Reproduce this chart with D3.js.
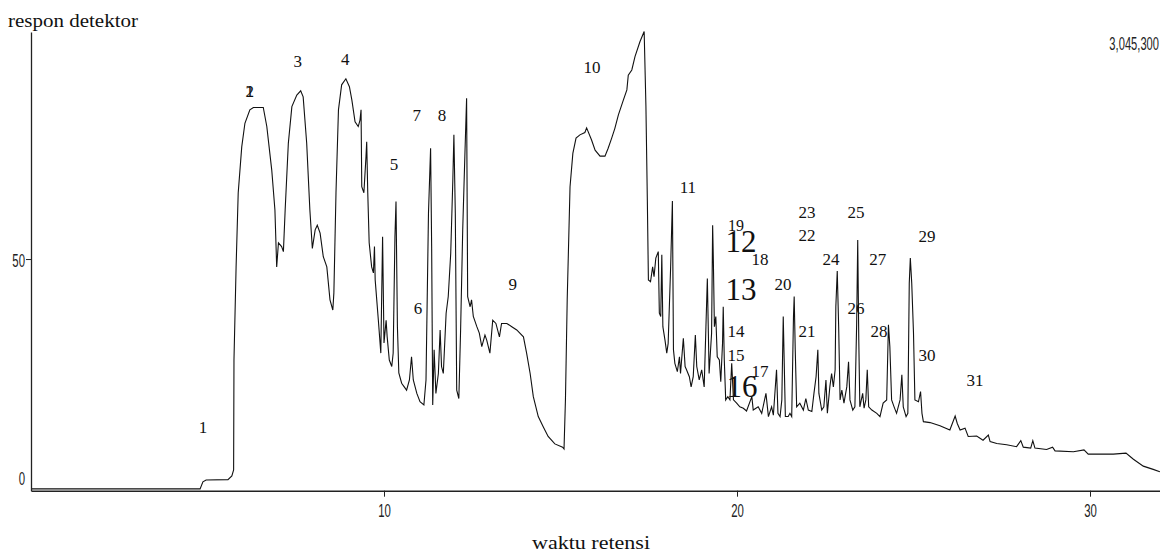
<!DOCTYPE html>
<html>
<head>
<meta charset="utf-8">
<script src="https://cdn.jsdelivr.net/npm/d3@7"></script>
<style>
  body { margin: 0; background: #fff; }
  svg { display: block; }
</style>
</head>
<body>
<svg></svg>
<script>
// retention time (min) and detector response (% of full scale)
const retentionTime = [
  0, 4.79, 4.87, 4.96, 5.58, 5.69, 5.74, 5.75, 5.81, 5.87, 5.97, 6.06, 6.20, 6.30, 6.58, 6.68, 6.82, 6.91, 6.96, 7.01,
  7.10, 7.15, 7.20, 7.29, 7.39, 7.53, 7.64, 7.71, 7.81, 7.90, 7.97, 8.05, 8.11, 8.19, 8.28, 8.38, 8.47, 8.55, 8.58, 8.64,
  8.71, 8.80, 8.92, 9.02, 9.09, 9.18, 9.27, 9.32, 9.35, 9.37, 9.43, 9.49, 9.51, 9.54, 9.58, 9.65, 9.70, 9.73, 9.75, 9.84,
  9.91, 9.96, 10.00, 10.06, 10.09, 10.15, 10.22, 10.26, 10.31, 10.34, 10.38, 10.42, 10.50, 10.64, 10.72, 10.78, 10.83, 10.93, 11.02, 11.13,
  11.19, 11.26, 11.32, 11.35, 11.38, 11.42, 11.47, 11.54, 11.59, 11.63, 11.68, 11.76, 11.82, 11.89, 11.95, 11.98, 12.02, 12.06, 12.12, 12.17,
  12.23, 12.29, 12.34, 12.37, 12.44, 12.48, 12.53, 12.63, 12.70, 12.77, 12.86, 12.91, 13.00, 13.08, 13.17, 13.27, 13.33, 13.48, 13.62, 13.76,
  13.95, 14.04, 14.14, 14.23, 14.37, 14.51, 14.65, 14.84, 15.06, 15.10, 15.14, 15.19, 15.27, 15.35, 15.44, 15.55, 15.69, 15.74, 15.88, 15.98,
  16.12, 16.26, 16.35, 16.45, 16.54, 16.64, 16.78, 16.88, 16.92, 17.02, 17.11, 17.25, 17.37, 17.42, 17.46, 17.49, 17.55, 17.61, 17.65, 17.70,
  17.77, 17.80, 17.84, 17.87, 17.90, 17.96, 18.01, 18.05, 18.12, 18.17, 18.20, 18.24, 18.31, 18.37, 18.40, 18.48, 18.53, 18.57, 18.65, 18.70,
  18.76, 18.82, 18.86, 18.93, 19.00, 19.07, 19.12, 19.16, 19.21, 19.28, 19.31, 19.33, 19.36, 19.40, 19.44, 19.50, 19.54, 19.59, 19.61, 19.64,
  19.68, 19.74, 19.80, 19.85, 19.90, 19.99, 20.08, 20.18, 20.27, 20.42, 20.46, 20.60, 20.70, 20.82, 20.89, 20.98, 21.03, 21.12, 21.16, 21.22,
  21.27, 21.31, 21.34, 21.37, 21.45, 21.50, 21.55, 21.60, 21.62, 21.65, 21.69, 21.78, 21.88, 21.95, 22.02, 22.12, 22.18, 22.24, 22.29, 22.32,
  22.40, 22.46, 22.52, 22.56, 22.63, 22.68, 22.73, 22.78, 22.80, 22.84, 22.88, 22.92, 22.97, 23.03, 23.11, 23.16, 23.20, 23.28, 23.34, 23.39,
  23.42, 23.45, 23.48, 23.56, 23.60, 23.65, 23.69, 23.73, 23.82, 23.96, 24.05, 24.14, 24.24, 24.29, 24.33, 24.38, 24.45, 24.52, 24.62, 24.67,
  24.71, 24.79, 24.84, 24.88, 24.91, 24.95, 25.00, 25.04, 25.14, 25.20, 25.24, 25.28, 25.47, 25.75, 26.03, 26.18, 26.24, 26.32, 26.46, 26.55,
  26.79, 26.97, 27.12, 27.17, 27.36, 27.64, 27.92, 28.04, 28.11, 28.32, 28.38, 28.44, 28.77, 28.94, 29.01, 29.53, 29.83, 29.95, 30.66, 31.02,
  31.23, 31.51, 31.79, 31.98
]
const response = [
  0.4, 0.4, 1.9, 2.3, 2.4, 3.2, 4.5, 28.2, 48.3, 64.3, 74.2, 79.3, 82.2, 82.7, 82.7, 78.6, 69.2, 60.6, 48.3, 53.5,
  52.7, 51.6, 60.6, 75.0, 82.9, 85.4, 86.3, 85.0, 75.0, 60.6, 52.3, 56.3, 57.3, 55.6, 50.5, 48.3, 41.2, 39.0, 42.7, 64.3,
  82.2, 87.6, 88.9, 87.2, 84.3, 79.6, 78.6, 80.0, 82.2, 65.6, 64.3, 72.1, 75.3, 64.3, 53.5, 48.3, 47.0, 52.7, 45.5, 36.8,
  29.7, 54.8, 31.9, 36.8, 33.2, 28.2, 26.8, 29.7, 54.8, 62.4, 35.4, 25.4, 23.2, 21.7, 23.9, 28.9, 23.9, 21.0, 19.2, 18.5,
  23.9, 59.9, 73.9, 52.7, 18.5, 30.4, 21.0, 25.3, 34.7, 26.8, 25.3, 38.3, 41.9, 51.2, 67.1, 76.8, 59.9, 21.7, 19.9, 34.7,
  56.3, 72.1, 84.7, 41.9, 39.7, 41.2, 37.6, 35.4, 34.0, 31.1, 33.6, 32.5, 29.7, 36.8, 36.1, 33.2, 36.1, 36.1, 35.4, 34.7,
  33.2, 29.7, 25.3, 20.3, 16.0, 13.8, 11.7, 10.1, 9.4, 9.0, 19.6, 41.2, 65.6, 72.8, 76.1, 76.8, 77.3, 78.3, 75.7, 73.5,
  72.2, 72.2, 73.9, 76.1, 78.2, 81.1, 84.3, 86.5, 89.7, 90.8, 93.7, 96.9, 99.1, 82.9, 62.7, 45.5, 45.1, 48.3, 46.2, 50.2,
  51.6, 38.3, 37.6, 50.9, 35.4, 32.5, 29.7, 31.8, 48.3, 62.5, 30.4, 27.5, 25.7, 28.9, 25.3, 32.9, 26.8, 26.1, 24.6, 22.4,
  24.6, 33.6, 26.8, 23.9, 26.1, 22.4, 35.4, 45.8, 25.3, 34.0, 57.3, 49.8, 35.4, 37.6, 28.9, 28.2, 23.5, 31.8, 39.7, 28.2,
  19.6, 20.3, 19.6, 27.5, 19.6, 18.9, 18.1, 17.8, 17.2, 20.3, 17.4, 18.1, 16.7, 21.0, 16.0, 18.1, 16.3, 26.1, 16.7, 16.0,
  19.6, 37.6, 26.8, 16.0, 16.0, 16.7, 16.0, 37.6, 41.9, 30.4, 18.1, 18.9, 17.4, 19.9, 17.4, 17.1, 21.0, 24.6, 30.4, 21.0,
  17.4, 18.1, 23.9, 16.7, 22.4, 25.3, 22.4, 26.1, 39.7, 47.4, 35.4, 19.6, 21.7, 18.9, 22.4, 27.8, 19.6, 17.4, 18.1, 36.1,
  54.1, 32.5, 18.1, 21.0, 17.8, 19.6, 26.1, 18.1, 17.4, 16.7, 16.0, 18.9, 19.6, 35.8, 31.1, 19.6, 18.1, 16.7, 19.6, 25.0,
  18.1, 16.0, 16.7, 44.8, 50.2, 44.8, 34.0, 19.6, 19.2, 21.4, 16.7, 14.9, 14.7, 14.0, 13.1, 16.1, 14.5, 13.1, 13.5, 11.7,
  11.8, 10.9, 12.0, 10.6, 10.2, 9.9, 9.5, 10.8, 9.4, 9.2, 10.8, 9.2, 8.9, 9.4, 8.6, 8.4, 8.8, 7.9, 7.9, 8.1,
  6.8, 5.3, 4.6, 4.1
]

const xTicks = [10, 20, 30]
const yTicks = [0, 50]
const fullScale = '3,045,300'

// peak numbers placed above the trace: [label, time, response]
const peakLabels = [
  ['1', 4.87, 12.4], ['2', 6.20, 85.0], ['1', 6.20, 85.0], ['3', 7.56, 91.4], ['4', 8.90, 91.9],
  ['5', 10.28, 69.2], ['6', 10.96, 38.2], ['7', 10.93, 79.8], ['8', 11.64, 79.8], ['9', 13.65, 43.4],
  ['10', 15.89, 90.2], ['11', 18.61, 64.3], ['19', 19.97, 56.1], ['18', 20.65, 48.7], ['12', 20.11, 51.5],
  ['13', 20.11, 41.2], ['14', 19.97, 33.2], ['15', 19.97, 28.0], ['16', 20.14, 20.2], ['17', 20.65, 24.5],
  ['20', 21.30, 43.3], ['21', 21.98, 33.2], ['22', 21.98, 53.9], ['23', 21.98, 58.8], ['24', 22.66, 48.7],
  ['25', 23.37, 58.8], ['26', 23.37, 38.1], ['27', 23.99, 48.7], ['28', 24.02, 33.2], ['29', 25.38, 53.7],
  ['30', 25.38, 28.0], ['31', 26.74, 22.7]
]
const bigLabels = ['12', '13', '16']

let width = 1160
let height = 553
let padLeft = 31
let padRight = 1160.6
let padTop = 32
let padBottom = 490.7

let svg = d3.select('svg')
    .attr('width', width)
    .attr('height', height)

let xScale = d3.scaleLinear()
                .domain([0, 32])
                .range([padLeft, padRight])

let yScale = d3.scaleLinear()
                .domain([0, 99])
                .range([padBottom, padTop])

let points = retentionTime.map((t, i) => [t, response[i]])

let line = d3.line()
              .x(d => xScale(d[0]))
              .y(d => yScale(d[1]))

svg.append('path')
    .datum(points)
    .attr('fill', 'none')
    .attr('stroke', '#111')
    .attr('stroke-width', 1.1)
    .attr('stroke-linejoin', 'miter')
    .attr('d', line)

// narrow tick font like the instrument printout
let tickFont = "'Liberation Sans', Arial, sans-serif"

let xAxis = d3.axisBottom(xScale)
              .tickValues(xTicks)
              .tickSize(6)
              .tickSizeOuter(0)

let gx = svg.append('g')
    .attr('transform', `translate(0, ${padBottom})`)
    .call(xAxis)
gx.select('.domain').attr('stroke-width', 1.6).attr('stroke', '#222')
gx.selectAll('.tick line').attr('stroke', '#222')
gx.selectAll('.tick text')
    .attr('y', 0)
    .attr('dy', 0)
    .attr('transform', 'translate(0, 26) scale(0.6, 1)')
    .style('font-family', tickFont)
    .style('font-size', '19px')
    .attr('fill', '#222')

let yAxis = d3.axisLeft(yScale)
              .tickValues(yTicks)
              .tickSize(5)
              .tickSizeOuter(0)

let gy = svg.append('g')
    .attr('transform', `translate(${padLeft}, 0)`)
    .call(yAxis)
gy.select('.domain').attr('stroke-width', 1.3).attr('stroke', '#222')
gy.selectAll('.tick line').attr('stroke', '#222')
gy.selectAll('.tick').filter(d => d === 0).select('line').remove()
gy.selectAll('.tick text')
    .attr('x', 0)
    .attr('dy', 0)
    .attr('transform', d => d === 0 ? 'translate(-6, -6) scale(0.6, 1)' : 'translate(-6, 7) scale(0.6, 1)')
    .style('font-family', tickFont)
    .style('font-size', '19px')
    .attr('fill', '#222')

// full scale value top right
svg.append('text')
    .attr('transform', 'translate(1159, 50) scale(0.62, 1)')
    .style('text-anchor', 'end')
    .style('font-family', tickFont)
    .style('font-size', '18px')
    .attr('fill', '#222')
    .text(fullScale)

// peak numbers
svg.append('g')
  .selectAll('text')
  .data(peakLabels)
  .enter()
  .append('text')
    .attr('x', d => xScale(d[1]))
    .attr('y', d => yScale(d[2]))
    .style('text-anchor', 'middle')
    .style('font-family', "'Liberation Serif', 'Times New Roman', serif")
    .style('font-size', d => bigLabels.includes(d[0]) ? '31px' : (d[0] === '19' ? '16px' : '17px'))
    .attr('fill', '#111')
    .text(d => d[0])

// y-axis label:
svg.append('text')
    .attr('x', 8)
    .attr('y', 27)
    .attr('textLength', 130)
    .attr('lengthAdjust', 'spacingAndGlyphs')
    .style('font-family', "'Liberation Serif', 'Times New Roman', serif")
    .style('font-size', '18px')
    .attr('fill', '#111')
    .text('respon detektor')

// x-axis label:
svg.append('text')
    .attr('x', 532)
    .attr('y', 549)
    .attr('textLength', 118)
    .attr('lengthAdjust', 'spacingAndGlyphs')
    .style('font-family', "'Liberation Serif', 'Times New Roman', serif")
    .style('font-size', '18px')
    .attr('fill', '#111')
    .text('waktu retensi')
</script>
</body>
</html>
